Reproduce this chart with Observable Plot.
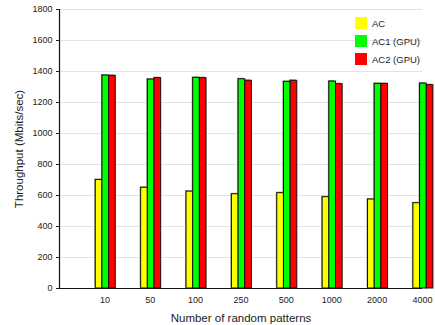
<!DOCTYPE html>
<html>
<head>
<meta charset="utf-8">
<script src="https://cdn.jsdelivr.net/npm/d3@7"></script>
<script src="https://cdn.jsdelivr.net/npm/@observablehq/plot@0.6"></script>
<style>
  html, body { margin: 0; padding: 0; background: #fff; }
  #wrap { position: relative; width: 435px; height: 325px; font-family: "Liberation Sans", Arial, sans-serif; }
  #legend { position: absolute; left: 355px; top: 14px; font-size: 9.5px; color: #222; }
  #legend .row { display: flex; align-items: center; height: 18px; }
  #legend .sw { width: 12px; height: 12px; margin-right: 5px; }
</style>
</head>
<body>
<div id="wrap"><div id="legend"></div></div>
<script>
const categories = ["10", "50", "100", "250", "500", "1000", "2000", "4000"];
const seriesNames = ["AC", "AC1 (GPU)", "AC2 (GPU)"];
const seriesColors = ["#ffff00", "#00ff00", "#ff0000"];
const acValues  = [700, 650, 625, 608, 615, 589, 574, 550];
const ac1Values = [1374, 1348, 1359, 1350, 1333, 1335, 1320, 1322];
const ac2Values = [1372, 1357, 1357, 1340, 1340, 1318, 1320, 1312];
const yTicks = [0, 200, 400, 600, 800, 1000, 1200, 1400, 1600, 1800];

const seriesValues = [acValues, ac1Values, ac2Values];
const barW = 0.147;
const data = [];
categories.forEach((c, ci) => {
  seriesNames.forEach((s, si) => {
    const center = ci + 1 + 0.02 + (si - 1) * barW;
    data.push({cat: c, idx: ci + 1, series: s, value: seriesValues[si][ci],
               x1: center - barW / 2, x2: center + barW / 2});
  });
});

const chart = Plot.plot({
  width: 435,
  height: 325,
  marginLeft: 59,
  marginRight: 13,
  marginTop: 9,
  marginBottom: 37,
  style: {fontFamily: "Liberation Sans, Arial, sans-serif", fontSize: "9px", color: "#222", background: "#fff"},
  x: {type: "linear", domain: [0, categories.length], ticks: categories.map((c, i) => i + 1),
      tickFormat: d => categories[d - 1], tickSize: 0, tickPadding: 8,
      label: "Number of random patterns", labelAnchor: "center", labelOffset: 33, labelArrow: "none"},
  y: {domain: [0, 1800], ticks: yTicks, tickFormat: d => String(d), tickSize: 3, tickPadding: 4,
      label: "Throughput (Mbits/sec)", labelAnchor: "center", labelOffset: 45, labelArrow: "none"},
  color: {domain: seriesNames, range: seriesColors},
  marks: [
    Plot.gridY(yTicks.filter(t => t > 0), {stroke: "#e3e3e3", strokeOpacity: 1, strokeWidth: 1}),
    Plot.rectY(data, {x1: "x1", x2: "x2", y1: 0, y2: "value", fill: "#999", dx: -1, dy: -1}),
    Plot.rectY(data, {x1: "x1", x2: "x2", y1: 0, y2: "value", fill: "series", stroke: "#111", strokeWidth: 1}),
    Plot.ruleY([0], {stroke: "#111", strokeWidth: 1.2}),
    Plot.ruleX([0], {stroke: "#111", strokeWidth: 1.2})
  ]
});
chart.querySelectorAll("g[aria-label='x-axis label'] text, g[aria-label='y-axis label'] text").forEach(t => t.style.fontSize = "11.5px");
const wrap = document.getElementById("wrap");
wrap.insertBefore(chart, wrap.firstChild);

const legend = document.getElementById("legend");
seriesNames.forEach((s, i) => {
  const row = document.createElement("div");
  row.className = "row";
  const sw = document.createElement("div");
  sw.className = "sw";
  sw.style.background = seriesColors[i];
  const lab = document.createElement("span");
  lab.textContent = s;
  row.appendChild(sw); row.appendChild(lab);
  legend.appendChild(row);
});
</script>
</body>
</html>
